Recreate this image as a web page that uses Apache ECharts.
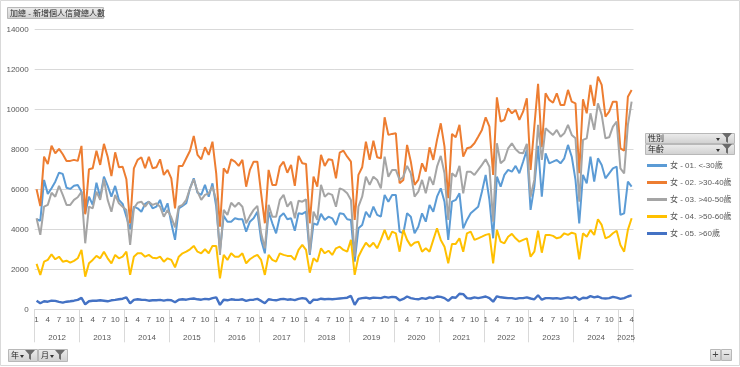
<!DOCTYPE html>
<html><head><meta charset="utf-8">
<script src="https://cdn.jsdelivr.net/npm/echarts@6/dist/echarts.min.js"></script>
<style>html,body{margin:0;padding:0;background:#fff}#c{width:740px;height:367px}</style>
</head><body><div id="c"></div>
<script>
const years = ['2012','2013','2014','2015','2016','2017','2018','2019','2020','2021','2022','2023','2024','2025'];
const monthsPerYear = [12,12,12,12,12,12,12,12,12,12,12,12,12,4];
const yTicks = {min: 0, max: 14000, interval: 2000};
const seriesNames = ['女 - 01. <-30歲','女 - 02. >30-40歲','女 - 03. >40-50歲','女 - 04. >50-60歲','女 - 05. >60歲'];
const colors = ['#5B9BD5','#ED7D31','#A5A5A5','#FFC000','#4472C4'];

const s1 = [4500,4430,6470,5770,6050,6380,6830,6770,6080,6020,6180,6220,
5880,4800,5630,5220,6330,5600,6630,6170,5630,6170,5470,5270,
4630,4000,5130,5050,4880,5270,5380,5050,5130,5470,4880,5300,
4300,3470,5050,5170,5300,6050,6550,5830,5720,6220,5630,6300,
5130,2950,4670,4380,4380,4550,4500,4500,3880,4380,4550,4880,
3470,2800,4880,4300,3800,4630,4800,4500,4550,3930,4800,4770,
4880,2720,4300,4220,4770,4470,4630,4550,4220,4800,4770,4500,
4470,2380,4050,4220,4880,4600,5130,4720,4630,5720,5380,5720,
5720,3880,3800,4800,4630,3800,4130,4800,4380,5220,4880,5630,
6050,5380,3470,5380,5470,5800,4050,4470,4800,4970,5130,5880,
6720,5470,3550,6630,6130,6720,6970,6880,7170,6800,7380,7970,
4970,6130,8170,5630,7800,7300,7380,7470,7300,7550,8220,7630,
6470,4300,6720,6300,7630,6380,7550,7220,6550,6800,7050,7130,
4720,4800,6380,6130];
const s2 = [6000,5160,7630,7260,8180,7800,8020,7750,7420,7420,7470,7420,
8170,4750,7000,7050,7930,7220,8270,7630,6660,7850,7100,7130,
6500,4300,7050,7470,7600,7050,7630,7050,7100,7500,6720,6970,
6550,5050,7170,7170,7550,7930,8670,7720,7500,8100,7720,8380,
6800,4130,7050,6800,7500,7380,7170,7470,6130,6970,7380,7380,
5800,4300,6970,6220,6220,7130,7380,6830,7220,6170,7670,7300,
7270,4300,6630,6130,7720,7170,7500,7470,6550,7830,7930,7630,
7380,4470,6720,7100,8380,7470,8430,7600,7550,9600,8720,8770,
8800,6300,6470,8220,7380,6220,6470,7300,6880,8100,7470,8470,
9300,8130,5550,8770,8600,9220,7630,8050,8100,8300,8630,8970,
9600,9130,6720,10600,9380,9470,10050,9800,9970,9470,9880,10550,
6970,9130,11270,8100,10800,10470,10330,10800,10220,10220,10970,10380,
10300,6800,10500,9800,11220,10170,11630,11220,9630,9880,10380,10380,
8050,7930,10630,10970];
const s3 = [4550,3720,5130,5220,5830,5630,6170,5720,5220,5220,5470,5600,
5880,3300,5130,5050,5880,5470,6500,5470,4880,5720,5300,5130,
4970,3220,5050,5330,5380,5130,5380,5220,5300,5130,4630,4970,
4600,4100,5130,5220,5470,6050,6500,5880,5470,5720,5800,6130,
5470,2720,4970,4720,5330,5130,5330,5130,4300,4670,4970,5170,
3800,3050,5220,4630,4630,5470,5720,5130,5380,4550,5430,5380,
5500,2800,4880,4470,6220,5630,5800,5720,5130,6050,5970,5800,
5470,2630,5130,5630,6630,6220,6630,6470,6050,7630,6630,6970,
6970,6470,6630,7170,6800,5630,5880,6470,5800,6630,6220,7130,
7670,6800,4470,6800,6630,7170,5800,6880,6880,6720,6970,7220,
7500,7130,4380,8300,7300,7470,8050,8300,8000,7830,7800,8270,
5630,6470,9220,7470,9050,8880,8720,8970,8630,8800,9220,8720,
8550,5380,8470,8550,9800,8970,10300,9720,8550,8600,9130,9380,
7050,6800,9220,10380];
const s4 = [2270,1720,2380,2470,2750,2500,2630,2380,2430,2330,2420,2550,
2970,1630,2300,2470,2670,2550,2880,2550,2300,2720,2550,2630,
2880,1720,2630,2800,2800,2630,2720,2580,2550,2630,2380,2550,
2470,2100,2630,2800,2880,3000,3170,2880,2800,3000,2800,3170,
3170,1550,2720,2470,2800,2630,2630,2800,2300,2500,2630,2720,
2470,1720,2720,2470,2380,2800,2720,2670,2670,2470,2970,3220,
2970,1830,2550,2380,3050,2800,2930,2720,3050,3130,2970,2880,
3470,1720,2630,3000,3330,3130,3330,3050,3470,3970,3470,3880,
3800,2880,3970,3470,3170,3330,3380,2880,3050,2880,3470,4050,
3470,3130,2300,3270,3270,3550,2880,3800,3880,3470,3550,3630,
3720,3770,2300,3970,3380,3300,3630,3770,3550,3380,3470,3550,
2630,2880,3930,2830,3720,3720,3670,3550,3600,3800,3720,3830,
3770,2500,3800,3630,3970,3720,4500,4220,3550,3630,3800,3930,
3220,2880,3970,4550];
const s5 = [430,300,400,380,430,420,370,330,380,400,430,470,
570,250,400,430,430,450,430,400,450,470,500,530,
600,300,470,500,480,470,430,450,450,470,430,470,
450,350,480,500,480,520,540,500,480,520,500,560,
600,220,480,450,500,480,470,500,420,470,480,520,
420,300,500,470,450,500,520,480,500,460,520,560,
530,300,480,470,530,500,520,500,520,540,560,580,
670,220,520,560,580,540,580,570,560,620,580,620,
600,450,520,640,560,520,500,560,520,600,560,640,
620,560,420,600,580,780,760,560,540,600,560,600,
640,560,380,650,600,580,560,560,520,560,560,600,
540,500,700,480,560,560,540,560,520,560,600,560,
620,480,580,560,660,600,640,560,540,560,620,580,
520,560,640,700];
const seriesValues = [s1, s2, s3, s4, s5];

// build categories
const categories = [], monthOf = [];
years.forEach((y, yi) => { for (let m = 1; m <= monthsPerYear[yi]; m++) { categories.push(y + '-' + m); monthOf.push(m); } });
const yearStart = []; let acc = 0;
monthsPerYear.forEach(n => { yearStart.push(acc); acc += n; });
const yearCenters = yearStart.map((s, i) => s + monthsPerYear[i] / 2);
const total = categories.length;

const FONT = '"Liberation Sans", "Noto Sans CJK TC", sans-serif';
const AX = '#595959', GL = '#d9d9d9';

function funnel(fx, fy) {
  return {type:'polygon', silent:true, shape:{points:[[fx,fy],[fx+10,fy],[fx+6,fy+4.5],[fx+6,fy+10],[fx+4,fy+8.5],[fx+4,fy+4.5]]}, style:{fill:'#6b6b6b'}};
}
function arrow(ax, ay) {
  return {type:'polygon', silent:true, shape:{points:[[ax,ay],[ax+4,ay],[ax+2,ay+3]]}, style:{fill:'#333'}};
}
function btn(x, y, w, h, label) {
  return [
    {type:'rect', silent:true, shape:{x:x+0.5, y:y+0.5, width:w, height:h},
     style:{fill:new echarts.graphic.LinearGradient(0,0,0,1,[{offset:0,color:'#ededed'},{offset:1,color:'#cfcfcf'}]), stroke:'#b8b8b8', lineWidth:1}},
    {type:'text', silent:true, style:{x:x+3, y:y+h/2+1, text:label, fontSize:8, fontFamily:FONT, fill:'#262626', verticalAlign:'middle'}}
  ];
}
const graphics = [
  {type:'rect', silent:true, z:-10, shape:{x:0.5,y:0.5,width:739,height:365}, style:{fill:'none', stroke:GL, lineWidth:1}},
  ...btn(7, 7, 96, 11, '加總 - 新增個人信貸總人數'),
  ...btn(645, 133, 89, 10, '性別'), arrow(716, 138), funnel(722, 133),
  ...btn(645, 144, 89, 10, '年齡'), arrow(716, 149), funnel(722, 144),
  ...btn(8, 349, 29, 12, '年'), arrow(20, 355), funnel(25, 350),
  ...btn(38, 349, 29, 12, '月'), arrow(50, 355), funnel(55, 350),
  ...btn(710, 349, 10, 11, ''), ...btn(721, 349, 10, 11, ''),
  {type:'text', silent:true, style:{x:715.5, y:355, text:'+', fontSize:11, fontFamily:FONT, fill:'#444', align:'center', verticalAlign:'middle'}},
  {type:'text', silent:true, style:{x:726.5, y:355, text:'−', fontSize:11, fontFamily:FONT, fill:'#444', align:'center', verticalAlign:'middle'}}
];

const chart = echarts.init(document.getElementById('c'), null, {renderer:'canvas'});
chart.setOption({
  animation: false,
  backgroundColor: '#fff',
  color: colors,
  grid: {left: 34.7, right: 106.5, top: 29.3, bottom: 57.7, containLabel: false, outerBoundsMode: 'none'},
  legend: {
    orient: 'vertical', left: 647, top: 160, padding: 0, itemWidth: 20, itemHeight: 3, itemGap: 6, icon: 'rect',
    data: seriesNames,
    textStyle: {fontSize: 8, color: AX, fontFamily: FONT, lineHeight: 11, padding: [0, 0, 0, -2]}
  },
  xAxis: [{
    type: 'category', data: categories, boundaryGap: true, position: 'bottom',
    axisLine: {lineStyle: {color: GL}},
    axisTick: {show: true, interval: (i) => monthOf[i] === 1, length: 33, lineStyle: {color: GL}},
    axisLabel: {interval: 2, fontSize: 8, color: AX, fontFamily: FONT, margin: 6,
      formatter: (v) => v.split('-')[1]},
    splitLine: {show: false}
  }, {
    type: 'value', min: 0, max: total, position: 'bottom',
    axisLine: {show: false}, axisTick: {show: false}, splitLine: {show: false},
    axisLabel: {customValues: yearCenters, fontSize: 8, color: AX, fontFamily: FONT, margin: 24,
      formatter: (v) => { let k = 0; yearStart.forEach((s, i) => { if (v >= s) k = i; }); return years[k]; }}
  }],
  yAxis: {
    type: 'value', min: yTicks.min, max: yTicks.max, interval: yTicks.interval,
    axisLine: {show: false}, axisTick: {show: false},
    axisLabel: {fontSize: 8, color: AX, fontFamily: FONT, margin: 6, formatter: (v) => String(v)},
    splitLine: {lineStyle: {color: GL, width: 1}}
  },
  series: seriesValues.map((vals, i) => ({
    name: seriesNames[i], type: 'line', data: vals, xAxisIndex: 0,
    symbol: 'none', smooth: false,
    lineStyle: {width: i === 4 ? 2.4 : 2, color: colors[i]},
    itemStyle: {color: colors[i]}
  })),
  graphic: graphics
});
</script></body></html>
